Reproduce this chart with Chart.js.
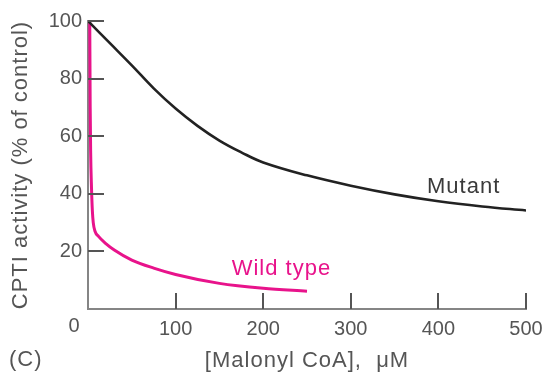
<!DOCTYPE html>
<html>
<head>
<meta charset="utf-8">
<script src="https://cdn.jsdelivr.net/npm/chart.js@4.4.1/dist/chart.umd.min.js"></script>
<style>
  html, body { margin: 0; padding: 0; background: #fff; }
  #wrap { width: 545px; height: 375px; }
</style>
</head>
<body>
<div id="wrap"><canvas id="chart"></canvas></div>
<script>
// values
const mutantX = [0, 25, 50, 75, 100, 125, 150, 175, 200, 250, 300, 350, 400, 450, 500];
const mutantY = [100, 92.3, 84.6, 76.6, 69.6, 63.6, 58.5, 54.4, 50.9, 46.4, 42.8, 39.8, 37.4, 35.6, 34.2];
const wildX = [2, 2.5, 3, 4, 5, 6, 8, 12, 20, 30, 50, 75, 100, 150, 200, 250];
const wildY = [100, 70, 55, 42, 34, 30, 27, 25.2, 22.8, 20.5, 17, 14.2, 12, 8.9, 7.2, 6.2];
const xTicks = [0, 100, 200, 300, 400, 500];
const yTicks = [0, 20, 40, 60, 80, 100];
const xTitle = '[Malonyl CoA],  μM';
const yTitle = 'CPTI activity (% of control)';

const PINK = '#e8138b';
const AXIS = '#858585';
const TXT = '#555';
const FONT = "'Liberation Sans', Arial, sans-serif";

const pts = (xs, ys) => xs.map((x, i) => ({ x, y: ys[i] }));

// tick marks inside the axes, titles, curve labels, shared "0", panel letter
const extras = {
  id: 'extras',
  afterDatasetsDraw(chart) {
    const { ctx, chartArea: a, scales: { x, y } } = chart;
    const x0 = x.getPixelForValue(0), y0 = y.getPixelForValue(0);
    ctx.save();
    ctx.strokeStyle = '#555';
    ctx.lineWidth = 2;
    yTicks.filter(v => v > 0).forEach(v => {
      const py = Math.round(y.getPixelForValue(v));
      ctx.beginPath(); ctx.moveTo(x0, py); ctx.lineTo(x0 + 16, py); ctx.stroke();
    });
    xTicks.filter(v => v > 0).forEach(v => {
      const px = Math.round(x.getPixelForValue(v));
      ctx.beginPath(); ctx.moveTo(px, y0); ctx.lineTo(px, y0 - 16); ctx.stroke();
    });

    ctx.letterSpacing = '1px';
    ctx.textBaseline = 'alphabetic';
    ctx.textAlign = 'left';
    ctx.font = '22px ' + FONT;
    ctx.fillStyle = '#3a3a3a';
    ctx.fillText('Mutant', x.getPixelForValue(387), y.getPixelForValue(40.3));
    ctx.fillStyle = PINK;
    ctx.fillText('Wild type', x.getPixelForValue(164), y.getPixelForValue(11.8));

    ctx.fillStyle = TXT;
    ctx.textAlign = 'center';
    ctx.textBaseline = 'middle';
    ctx.fillText(xTitle, (a.left + a.right) / 2, 361);
    ctx.save();
    ctx.translate(21, (a.top + a.bottom) / 2);
    ctx.rotate(-Math.PI / 2);
    ctx.fillText(yTitle, 0, 0);
    ctx.restore();
    ctx.textAlign = 'left';
    ctx.fillText('(C)', 9, 360);

    ctx.letterSpacing = '0px';
    ctx.font = '20px ' + FONT;
    ctx.textAlign = 'center';
    ctx.fillText('0', x0 - 14, y0 + 17);
    ctx.restore();
  }
};

new Chart(document.getElementById('chart'), {
  type: 'line',
  data: {
    datasets: [
      { label: 'Mutant', data: pts(mutantX, mutantY), borderColor: '#222', borderWidth: 2.6,
        pointRadius: 0, tension: 0.4, fill: false },
      { label: 'Wild type', data: pts(wildX, wildY), borderColor: PINK, borderWidth: 3,
        pointRadius: 0, cubicInterpolationMode: 'monotone', fill: false }
    ]
  },
  options: {
    responsive: true,
    maintainAspectRatio: false,
    animation: false,
    layout: { padding: { left: 0, top: 21, right: 19, bottom: 0 } },
    plugins: { legend: { display: false }, tooltip: { enabled: false } },
    scales: {
      x: {
        type: 'linear', min: 0, max: 500,
        afterBuildTicks: s => { s.ticks = xTicks.map(v => ({ value: v })); },
        afterFit: s => { s.height = 66; s.paddingLeft = 0; s.paddingRight = 0; },
        grid: { display: true, drawOnChartArea: false, drawTicks: false },
        border: { display: true, color: AXIS, width: 2 },
        ticks: { padding: 8, color: TXT, font: { family: FONT, size: 20 },
                 maxRotation: 0, callback: v => v === 0 ? '' : v }
      },
      y: {
        min: 0, max: 100,
        afterBuildTicks: s => { s.ticks = yTicks.map(v => ({ value: v })); },
        afterFit: s => { s.width = 88; s.paddingTop = 0; s.paddingBottom = 0; },
        grid: { display: true, drawOnChartArea: false, drawTicks: false },
        border: { display: true, color: AXIS, width: 2 },
        ticks: { padding: 6, color: TXT, font: { family: FONT, size: 20 },
                 callback: v => v === 0 ? '' : v }
      }
    }
  },
  plugins: [extras]
});
</script>
</body>
</html>
